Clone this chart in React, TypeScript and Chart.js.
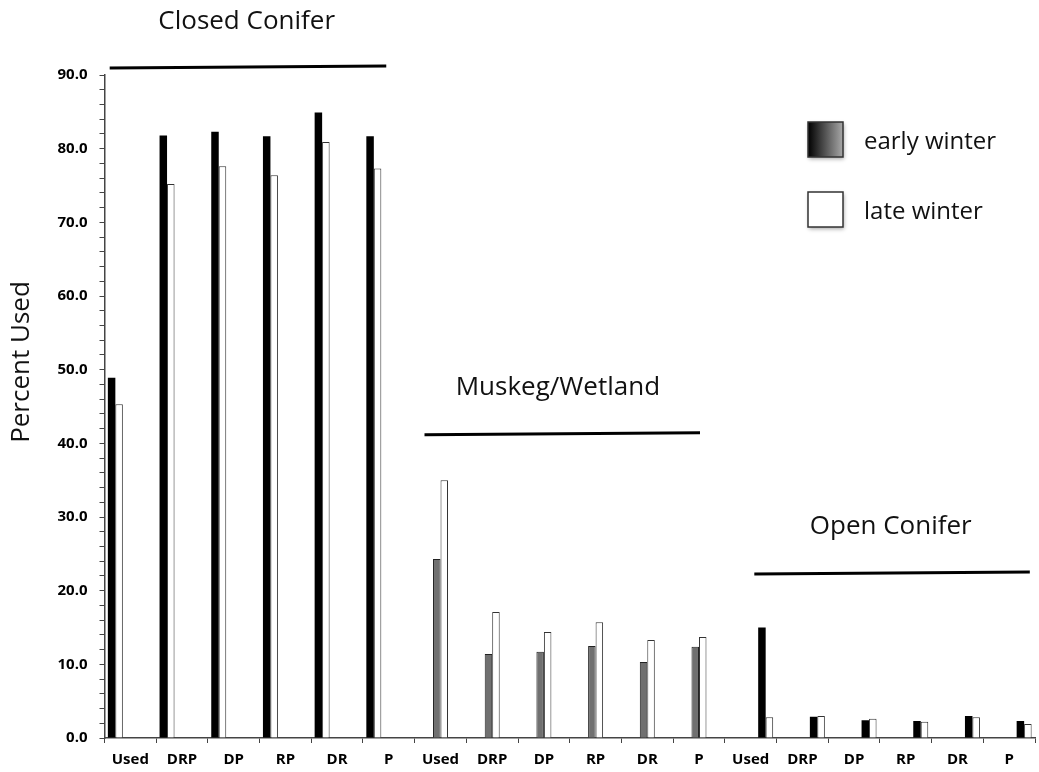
import React, { useEffect, useRef } from 'react';
import { Chart, registerables } from 'chart.js';

Chart.register(...registerables);

// ---- data ----
const subCategories = ['Used', 'DRP', 'DP', 'RP', 'DR', 'P'];
const habitats = ['Closed Conifer', 'Muskeg/Wetland', 'Open Conifer'];
const seriesNames = ['early winter', 'late winter'];

const closedEarly = [48.9, 81.8, 82.3, 81.7, 84.9, 81.7];
const closedLate = [45.3, 75.2, 77.6, 76.4, 80.9, 77.3];
const muskegEarly = [24.3, 11.4, 11.7, 12.5, 10.3, 12.4];
const muskegLate = [35.0, 17.1, 14.4, 15.7, 13.3, 13.7];
const openEarly = [15.0, 2.9, 2.4, 2.3, 3.0, 2.3];
const openLate = [2.8, 3.0, 2.6, 2.2, 2.8, 1.9];

const yMin = 0;
const yMax = 90;
const yMajorStep = 10;
const yMinorStep = 2;

// annotation placement (category-index units / value units)
const groupLineFrom = [-0.4, 5.69, 12.07];
const groupLineTo = [4.95, 11.02, 17.4];
const groupLineLevel = [91.1, 41.3, 22.4];
const groupTitleAt = [2.25, 8.27, 14.71];
const groupTitleLevel = [97.2, 47.6, 28.7];

const FONT = '"Open Sans", "Liberation Sans", sans-serif';

const labels = [...subCategories, ...subCategories, ...subCategories];

function placeInGroup(values: number[], group: number): (number | null)[] {
  const out: (number | null)[] = [];
  for (let g = 0; g < habitats.length; g++) {
    for (let i = 0; i < subCategories.length; i++) {
      out.push(g === group ? values[i] : null);
    }
  }
  return out;
}

const annotationPlugin = {
  id: 'groupAnnotations',
  afterDraw(chart: any) {
    const { ctx, scales } = chart;
    const xs = scales.x;
    const ys = scales.y;
    ctx.save();
    // group lines and titles
    for (let g = 0; g < habitats.length; g++) {
      const x1 = xs.getPixelForValue(groupLineFrom[g]);
      const x2 = xs.getPixelForValue(groupLineTo[g]);
      const yl = ys.getPixelForValue(groupLineLevel[g]);
      ctx.beginPath();
      ctx.strokeStyle = '#000';
      ctx.lineWidth = 3;
      ctx.moveTo(x1, yl + 1);
      ctx.lineTo(x2, yl - 1);
      ctx.stroke();
      ctx.fillStyle = '#111';
      ctx.font = `26px ${FONT}`;
      ctx.textAlign = 'center';
      ctx.textBaseline = 'middle';
      ctx.fillText(habitats[g], xs.getPixelForValue(groupTitleAt[g]), ys.getPixelForValue(groupTitleLevel[g]));
    }
    // y axis title
    ctx.save();
    ctx.translate(22, 362);
    ctx.rotate(-Math.PI / 2);
    ctx.font = `26px ${FONT}`;
    ctx.fillStyle = '#111';
    ctx.textAlign = 'center';
    ctx.textBaseline = 'middle';
    ctx.fillText('Percent Used', 0, 0);
    ctx.restore();
    // legend
    const boxes = [
      { y: 122, fill: 'grad' },
      { y: 192, fill: '#fff' },
    ];
    boxes.forEach((b, i) => {
      const bx = 808;
      const bw = 35;
      const bh = 35;
      ctx.save();
      ctx.shadowColor = 'rgba(0,0,0,0.35)';
      ctx.shadowBlur = 4;
      ctx.shadowOffsetX = 1;
      ctx.shadowOffsetY = 2;
      if (b.fill === 'grad') {
        const gr = ctx.createLinearGradient(bx, 0, bx + bw, 0);
        gr.addColorStop(0, '#000');
        gr.addColorStop(1, '#a8a8a8');
        ctx.fillStyle = gr;
      } else {
        ctx.fillStyle = '#fff';
      }
      ctx.fillRect(bx, b.y, bw, bh);
      ctx.restore();
      ctx.strokeStyle = '#333';
      ctx.lineWidth = 1.5;
      ctx.strokeRect(bx, b.y, bw, bh);
      ctx.fillStyle = '#111';
      ctx.font = `24px ${FONT}`;
      ctx.textAlign = 'left';
      ctx.textBaseline = 'middle';
      ctx.fillText(seriesNames[i], 864, b.y + 20);
    });
    ctx.restore();
  },
};

export default function App() {
  const canvasRef = useRef<HTMLCanvasElement | null>(null);

  useEffect(() => {
    if (!canvasRef.current) return;
    const whiteBar = { backgroundColor: '#ffffff', borderColor: '#333333', borderWidth: 1 };
    const chart = new Chart(canvasRef.current, {
      type: 'bar',
      data: {
        labels,
        datasets: [
          { label: `${habitats[0]} ${seriesNames[0]}`, data: placeInGroup(closedEarly, 0), backgroundColor: '#000000', borderWidth: 0 },
          { label: `${habitats[0]} ${seriesNames[1]}`, data: placeInGroup(closedLate, 0), ...whiteBar },
          { label: `${habitats[1]} ${seriesNames[0]}`, data: placeInGroup(muskegEarly, 1), backgroundColor: '#707070', borderColor: '#222222', borderWidth: 1 },
          { label: `${habitats[1]} ${seriesNames[1]}`, data: placeInGroup(muskegLate, 1), ...whiteBar },
          { label: `${habitats[2]} ${seriesNames[0]}`, data: placeInGroup(openEarly, 2), backgroundColor: '#000000', borderWidth: 0 },
          { label: `${habitats[2]} ${seriesNames[1]}`, data: placeInGroup(openLate, 2), ...whiteBar },
        ],
      },
      options: {
        responsive: false,
        animation: false,
        datasets: { bar: { categoryPercentage: 0.87, barPercentage: 1.0 } },
        layout: { padding: { top: 75, right: 4, bottom: 3, left: 57 } },
        plugins: {
          legend: { display: false },
          tooltip: { enabled: false },
          title: { display: false },
        },
        scales: {
          x: {
            type: 'category',
            offset: true,
            grid: {
              display: true,
              offset: true,
              drawOnChartArea: false,
              drawTicks: true,
              tickLength: 5,
              color: '#444',
            },
            border: { display: true, color: '#444', width: 1.5 },
            ticks: {
              autoSkip: false,
              maxRotation: 0,
              padding: 8,
              color: '#000',
              font: { family: FONT, size: 15, weight: 'bold' },
            },
            afterFit(scale: any) {
              scale.height = 31;
            },
          },
          y: {
            type: 'linear',
            min: yMin,
            max: yMax,
            grid: {
              display: true,
              drawOnChartArea: false,
              drawTicks: true,
              tickLength: 5,
              color: '#444',
            },
            border: { display: true, color: '#444', width: 1.5 },
            ticks: {
              stepSize: yMinorStep,
              autoSkip: false,
              padding: 12,
              color: '#000',
              font: { family: FONT, size: 15, weight: 'bold' },
              callback: (v: any) => {
                const n = Number(v);
                return Math.abs(n / yMajorStep - Math.round(n / yMajorStep)) < 1e-6 ? n.toFixed(1) : '';
              },
            },
            afterFit(scale: any) {
              scale.width = 47.5;
            },
          },
        },
      },
      plugins: [annotationPlugin],
    });
    return () => chart.destroy();
  }, []);

  return (
    <div style={{ position: 'absolute', left: 0, top: 0, width: 1039, height: 772, background: '#fff' }}>
      <canvas ref={canvasRef} width={1039} height={772} style={{ display: 'block', width: 1039, height: 772 }} />
    </div>
  );
}
